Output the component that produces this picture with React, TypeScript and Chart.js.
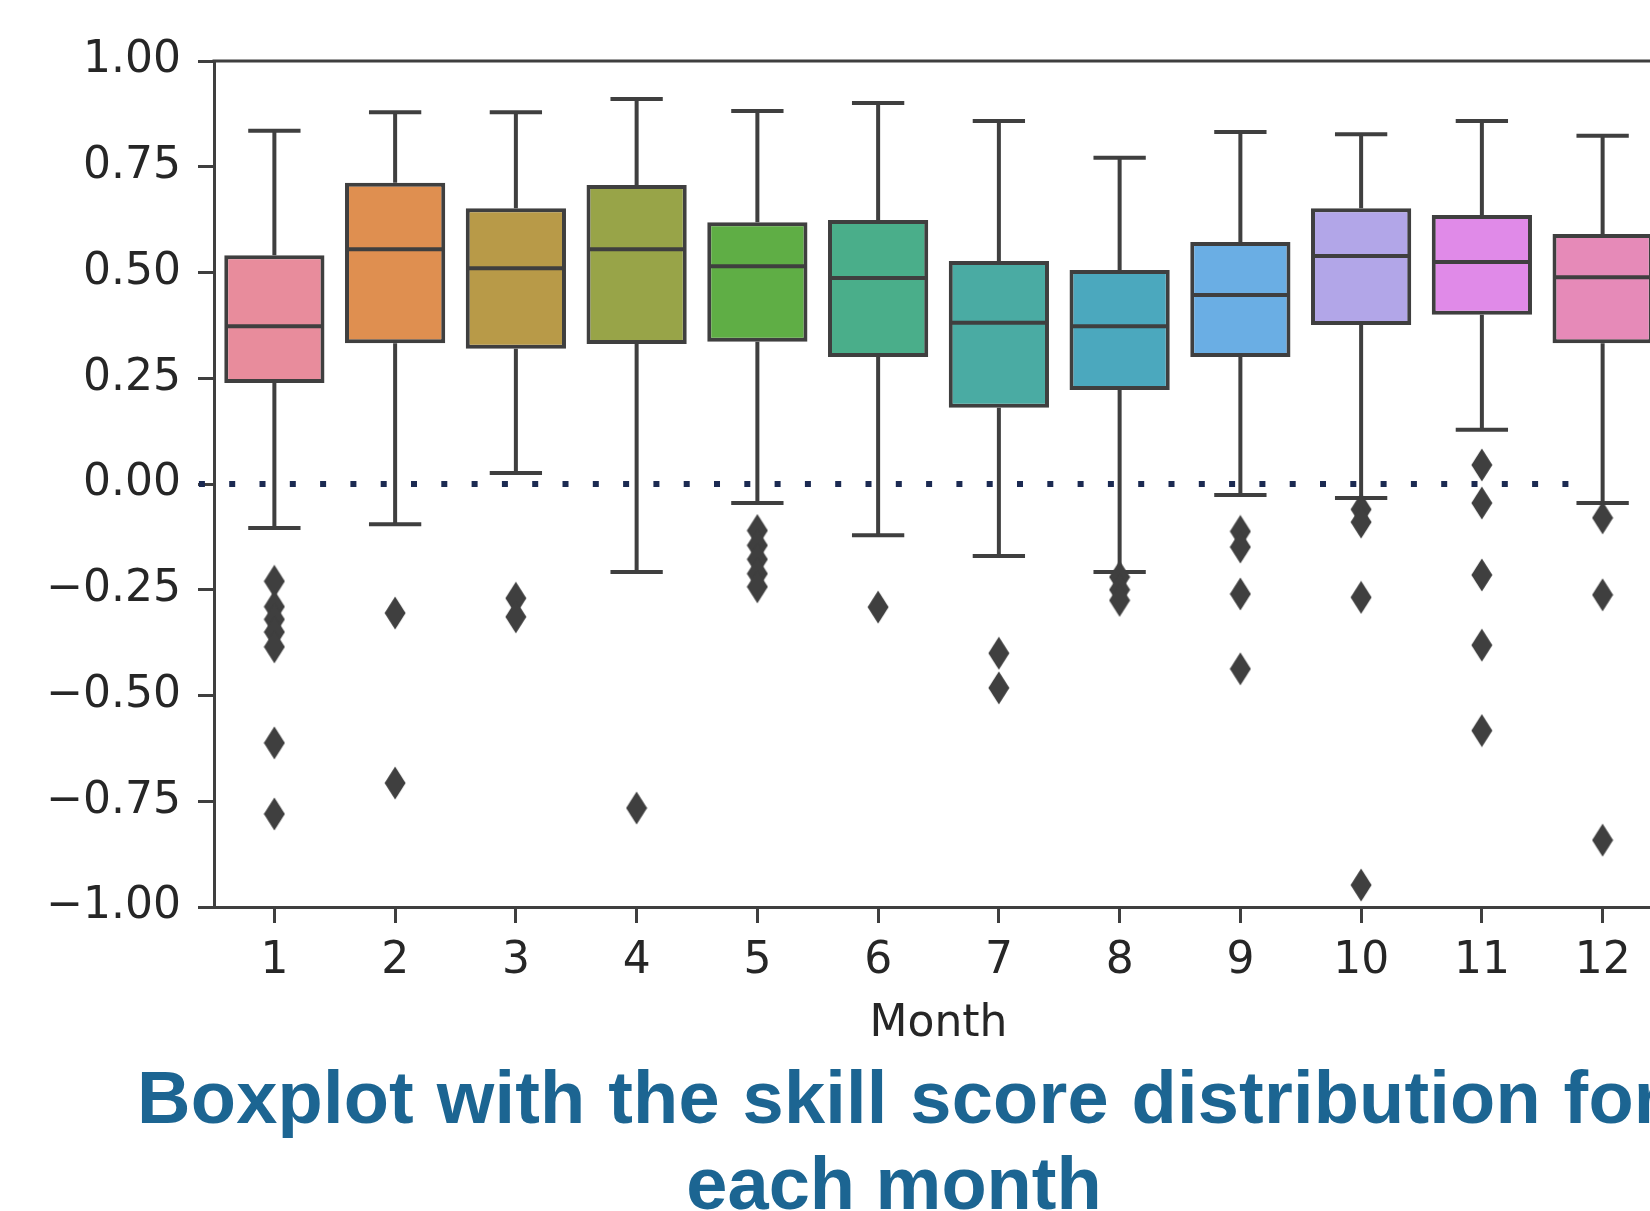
import React, { useEffect, useRef } from 'react';
import { Chart, registerables } from 'chart.js';

Chart.register(...registerables);

// ---- data ----
const months = ['1', '2', '3', '4', '5', '6', '7', '8', '9', '10', '11', '12'];
const whiskerHigh = [0.835, 0.879, 0.879, 0.91, 0.882, 0.901, 0.858, 0.771, 0.832, 0.827, 0.858, 0.823];
const q3Values = [0.541, 0.712, 0.652, 0.707, 0.619, 0.624, 0.527, 0.506, 0.572, 0.652, 0.636, 0.591];
const medians = [0.373, 0.555, 0.51, 0.555, 0.515, 0.487, 0.381, 0.373, 0.447, 0.539, 0.525, 0.489];
const q1Values = [0.239, 0.333, 0.32, 0.331, 0.336, 0.3, 0.18, 0.222, 0.3, 0.376, 0.4, 0.333];
const whiskerLow = [-0.104, -0.095, 0.026, -0.208, -0.045, -0.121, -0.17, -0.208, -0.026, -0.033, 0.128, -0.045];
const outliers: number[][] = [
  [-0.23, -0.29, -0.32, -0.35, -0.385, -0.612, -0.78],
  [-0.305, -0.707],
  [-0.27, -0.314],
  [-0.766],
  [-0.11, -0.145, -0.178, -0.212, -0.243],
  [-0.291],
  [-0.4, -0.482],
  [-0.22, -0.25, -0.275],
  [-0.112, -0.149, -0.26, -0.437],
  [-0.06, -0.09, -0.268, -0.948],
  [0.045, -0.045, -0.215, -0.381, -0.583],
  [-0.08, -0.262, -0.842],
];
const boxColors = [
  '#e88c9c', '#df8f50', '#b89a48', '#98a448', '#5fae45', '#4aae8a',
  '#4aaba3', '#4ba8be', '#6aaee4', '#b2a6e8', '#e08ae8', '#e68ab8',
];
const zeroLineX = [-0.625, 10.9];
const xLimits = [-0.5, 11.5];
const yLimits = [-1, 1];
const yStep = 0.25;
const xTitle = 'Month';
const captionLines = ['Boxplot with the skill score distribution for', 'each month'];

// ---- styles ----
const LINE = '#3f3f3f';
const TEXT = '#262626';
const CANVAS_W = 1700;
const CANVAS_H = 1060;
const TICK_FONT = { family: '"DejaVu Sans", sans-serif', size: 44 };

function makeDiamond(): HTMLCanvasElement {
  const c = document.createElement('canvas');
  c.width = 22;
  c.height = 34;
  const g = c.getContext('2d')!;
  g.fillStyle = LINE;
  g.beginPath();
  g.moveTo(11, 0.5);
  g.lineTo(21.5, 17);
  g.lineTo(11, 33.5);
  g.lineTo(0.5, 17);
  g.closePath();
  g.fill();
  return c;
}

function fmtTick(v: number): string {
  const s = Math.abs(v).toFixed(2);
  return v < -1e-9 ? '\u2212' + s : s;
}

const boxParts = {
  id: 'boxParts',
  beforeDatasetsDraw(chart: any) {
    const { ctx, scales } = chart;
    const x = scales.x;
    const y = scales.y;
    const slot = x.getPixelForValue(1) - x.getPixelForValue(0);
    const capHalf = slot * 0.2;
    ctx.save();
    ctx.strokeStyle = LINE;
    ctx.lineWidth = 4;
    months.forEach((_, i) => {
      const cx = x.getPixelForValue(i);
      ctx.lineCap = 'butt';
      ctx.beginPath();
      ctx.moveTo(cx, y.getPixelForValue(q3Values[i]));
      ctx.lineTo(cx, y.getPixelForValue(whiskerHigh[i]));
      ctx.moveTo(cx, y.getPixelForValue(q1Values[i]));
      ctx.lineTo(cx, y.getPixelForValue(whiskerLow[i]));
      ctx.stroke();
      ctx.lineCap = 'square';
      ctx.beginPath();
      const yh = y.getPixelForValue(whiskerHigh[i]);
      const yl = y.getPixelForValue(whiskerLow[i]);
      ctx.moveTo(cx - capHalf, yh);
      ctx.lineTo(cx + capHalf, yh);
      ctx.moveTo(cx - capHalf, yl);
      ctx.lineTo(cx + capHalf, yl);
      ctx.stroke();
    });
    ctx.restore();
  },
  afterDatasetsDraw(chart: any) {
    const { ctx, scales, chartArea } = chart;
    const x = scales.x;
    const y = scales.y;
    const slot = x.getPixelForValue(1) - x.getPixelForValue(0);
    const half = slot * 0.4;
    ctx.save();
    ctx.strokeStyle = LINE;
    ctx.lineWidth = 4;
    ctx.lineCap = 'butt';
    months.forEach((_, i) => {
      const cx = x.getPixelForValue(i);
      const ym = y.getPixelForValue(medians[i]);
      ctx.beginPath();
      ctx.moveTo(cx - half, ym);
      ctx.lineTo(cx + half, ym);
      ctx.stroke();
    });
    // top and right spines
    ctx.lineWidth = 3;
    ctx.beginPath();
    ctx.moveTo(chartArea.left - 1.5, chartArea.top);
    ctx.lineTo(chartArea.right, chartArea.top);
    ctx.lineTo(chartArea.right, chartArea.bottom);
    ctx.stroke();
    ctx.restore();
  },
};

export default function App() {
  const ref = useRef<HTMLCanvasElement>(null);

  useEffect(() => {
    const diamond = makeDiamond();
    const outlierPoints: { x: number; y: number }[] = [];
    outliers.forEach((list, i) => list.forEach((v) => outlierPoints.push({ x: i, y: v })));

    const chart = new Chart(ref.current!, {
      type: 'bar',
      data: {
        datasets: [
          {
            type: 'line',
            label: 'zero',
            data: zeroLineX.map((v) => ({ x: v, y: 0 })),
            borderColor: '#1b2a52',
            borderWidth: 6,
            borderDash: [6, 24.3],
            borderCapStyle: 'butt',
            pointRadius: 0,
            fill: false,
            clip: false,
            order: 0,
          } as any,
          {
            type: 'scatter',
            label: 'outliers',
            data: outlierPoints,
            pointStyle: diamond,
            pointRadius: 16,
            backgroundColor: LINE,
            borderColor: LINE,
            order: 1,
          } as any,
          {
            type: 'bar',
            label: 'box',
            data: q1Values.map((v, i) => ({ x: i, y: [v, q3Values[i]] })),
            backgroundColor: boxColors,
            borderColor: LINE,
            borderWidth: 4,
            borderSkipped: false,
            inflateAmount: 0,
            barPercentage: 0.83,
            categoryPercentage: 1,
            grouped: false,
            order: 2,
          } as any,
        ],
      },
      options: {
        responsive: false,
        animation: false,
        events: [],
        layout: { padding: { top: 61, right: CANVAS_W - 1663, bottom: 0, left: 0 } },
        plugins: {
          legend: { display: false },
          tooltip: { enabled: false },
          title: { display: false },
        },
        scales: {
          x: {
            type: 'linear',
            min: xLimits[0],
            max: xLimits[1],
            offset: false,
            grid: {
              display: true,
              drawOnChartArea: false,
              drawTicks: true,
              tickLength: 16,
              tickWidth: 3,
              tickColor: LINE,
              offset: false,
            },
            border: { display: true, color: LINE, width: 3 },
            afterBuildTicks: (s: any) => {
              s.ticks = months.map((_, i) => ({ value: i }));
            },
            ticks: {
              font: TICK_FONT,
              color: TEXT,
              padding: 12,
              maxRotation: 0,
              autoSkip: false,
              callback: (v: any) => months[Math.round(Number(v))],
            },
            title: {
              display: true,
              text: xTitle,
              font: TICK_FONT,
              color: TEXT,
              padding: { top: 0, bottom: 9 },
            },
            afterFit: (s: any) => {
              s.height = CANVAS_H - 907;
            },
          },
          y: {
            type: 'linear',
            min: yLimits[0],
            max: yLimits[1],
            grid: {
              display: true,
              drawOnChartArea: false,
              drawTicks: true,
              tickLength: 16,
              tickWidth: 3,
              tickColor: LINE,
            },
            border: { display: true, color: LINE, width: 3 },
            ticks: {
              stepSize: yStep,
              font: TICK_FONT,
              color: TEXT,
              padding: 17,
              callback: (v: any) => fmtTick(Number(v)),
            },
            afterFit: (s: any) => {
              s.width = 214;
            },
          },
        },
      } as any,
      plugins: [boxParts],
    });
    return () => chart.destroy();
  }, []);

  const captionStyle: React.CSSProperties = {
    position: 'absolute',
    left: 894 - 1200,
    width: 2400,
    textAlign: 'center',
    whiteSpace: 'nowrap',
    fontFamily: '"Liberation Sans", Arial, Helvetica, sans-serif',
    fontWeight: 'bold',
    fontSize: 74,
    lineHeight: '85px',
    color: '#1c6592',
  };

  return (
    <div
      style={{
        position: 'fixed',
        left: 0,
        top: 0,
        width: 1650,
        height: 1211,
        overflow: 'hidden',
        background: '#ffffff',
      }}
    >
      <canvas
        ref={ref}
        width={CANVAS_W}
        height={CANVAS_H}
        style={{ position: 'absolute', left: 0, top: 0, width: CANVAS_W, height: CANVAS_H }}
      />
      <div style={{ ...captionStyle, left: 900 - 1200, top: 1055, wordSpacing: 2, letterSpacing: 0.2 }}>
        {captionLines[0]}
      </div>
      <div style={{ ...captionStyle, top: 1141 }}>{captionLines[1]}</div>
    </div>
  );
}
